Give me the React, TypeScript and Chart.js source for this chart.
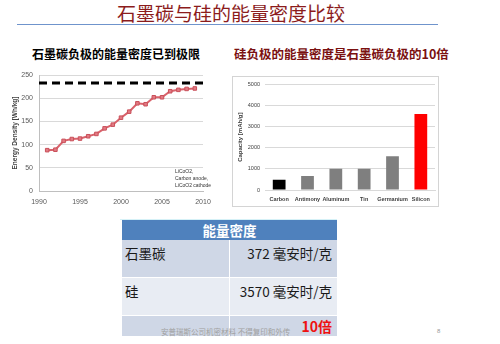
import React, { useEffect, useRef } from 'react';
import { Chart, registerables } from 'chart.js';
Chart.register(...registerables);

// ---- data ----
const years = [1991, 1992, 1993, 1994, 1995, 1996, 1997, 1998, 1999, 2000, 2001, 2002, 2003, 2004, 2005, 2006, 2007, 2008, 2009];
const energyDensity = [88, 89, 108, 112, 113, 118, 123, 135, 143, 158, 171, 189, 187, 202, 202, 215, 218, 220, 221];
const limitYears = [1990, 2010];
const limitValues = [233, 233];
const annotationLines = ['LiCoO2,', 'Carbon anode,', 'LiCoO2 cathode'];

const materials = ['Carbon', 'Antimony', 'Aluminum', 'Tin', 'Germanium', 'Silicon'];
const capacities = [480, 660, 1000, 1000, 1600, 3600];
const barColors = ['#000000', '#7f7f7f', '#7f7f7f', '#7f7f7f', '#7f7f7f', '#ff0000'];

const tableHeader = '能量密度';
const tableRows = [
  ['石墨碳', '372 毫安时/克'],
  ['硅', '3570 毫安时/克'],
];
const ratioText = '10倍';

const FONT = "'Liberation Sans', Arial, sans-serif";
const CJK = "'Noto Sans CJK SC', sans-serif";

function LineChart() {
  const ref = useRef<HTMLCanvasElement>(null);
  useEffect(() => {
    const annot = {
      id: 'annot',
      afterDraw(chart: any) {
        const ctx = chart.ctx;
        ctx.save();
        ctx.fillStyle = '#333';
        ctx.font = `5px ${FONT}`;
        ctx.textBaseline = 'middle';
        annotationLines.forEach((t, i) => ctx.fillText(t, 175, 110 + i * 6.6));
        ctx.restore();
      },
    };
    const chart = new Chart(ref.current!, {
      type: 'line',
      data: {
        datasets: [
          {
            data: years.map((x, i) => ({ x, y: energyDensity[i] })),
            borderColor: '#d9626b',
            backgroundColor: '#e27a83',
            borderWidth: 2,
            pointStyle: 'rect',
            pointRadius: 2.5,
            pointBorderColor: '#c9505a',
            pointBorderWidth: 1,
            tension: 0,
          },
          {
            data: limitYears.map((x, i) => ({ x, y: limitValues[i] })),
            borderColor: '#000',
            borderWidth: 3,
            borderDash: [8, 5],
            pointRadius: 0,
          },
        ],
      },
      options: {
        responsive: false,
        animation: false,
        layout: { padding: { left: 0, right: 22, top: 13, bottom: 0 } },
        plugins: { legend: { display: false }, tooltip: { enabled: false } },
        scales: {
          x: {
            type: 'linear',
            min: 1990,
            max: 2010,
            ticks: { stepSize: 5, padding: 7, font: { size: 7, family: FONT }, color: '#595959', callback: (v: any) => String(v) },
            grid: { display: false, drawTicks: false },
            border: { color: '#bfbfbf' },
            afterFit: (s: any) => { s.height = 21; },
          },
          y: {
            min: 0,
            max: 250,
            ticks: { stepSize: 50, padding: 6, font: { size: 7, family: FONT }, color: '#595959', callback: (v: any) => String(v) },
            grid: { color: '#d9d9d9', drawTicks: false },
            border: { color: '#bfbfbf' },
            title: { display: true, text: 'Energy Density [Wh/kg]', font: { size: 6.5, weight: 'bold', family: FONT }, color: '#404040', padding: { top: 11, bottom: 0 } },
            afterFit: (s: any) => { s.width = 39; },
          },
        },
      } as any,
      plugins: [annot],
    } as any);
    return () => chart.destroy();
  }, []);
  return <canvas ref={ref} width={225} height={150} style={{ position: 'absolute', left: 0, top: 62, width: 225, height: 150 }} />;
}

function BarChart() {
  const ref = useRef<HTMLCanvasElement>(null);
  useEffect(() => {
    const chart = new Chart(ref.current!, {
      type: 'bar',
      data: {
        labels: materials,
        datasets: [
          {
            data: capacities,
            backgroundColor: barColors,
            barPercentage: 0.45,
            categoryPercentage: 1,
          },
        ],
      },
      options: {
        responsive: false,
        animation: false,
        layout: { padding: { left: 0, right: 4, top: 8, bottom: 0 } },
        plugins: { legend: { display: false }, tooltip: { enabled: false } },
        scales: {
          x: {
            ticks: { padding: 6, font: { size: 5.5, weight: 'bold', family: FONT }, color: '#404040', maxRotation: 0, autoSkip: false },
            grid: { display: false, drawTicks: false },
            border: { color: '#d9d9d9' },
            afterFit: (s: any) => { s.height = 17; },
          },
          y: {
            min: 0,
            max: 5000,
            ticks: { stepSize: 1000, padding: 5, font: { size: 5.5, family: FONT }, color: '#404040', callback: (v: any) => String(v) },
            grid: { color: '#d9d9d9', drawTicks: false },
            border: { display: false },
            title: { display: true, text: 'Capacity [mAh/g]', font: { size: 6, weight: 'bold', family: FONT }, color: '#404040', padding: { top: 5, bottom: 0 } },
            afterFit: (s: any) => { s.width = 33; },
          },
        },
      } as any,
    } as any);
    return () => chart.destroy();
  }, []);
  return (
    <>
      <canvas ref={ref} width={207} height={131} style={{ position: 'absolute', left: 232, top: 76, width: 207, height: 131 }} />
      <div style={{ position: 'absolute', left: 232, top: 76, width: 207, height: 131, border: '1px solid #d4d4d4', boxSizing: 'border-box' }} />
    </>
  );
}

export default function App() {
  const abs = (s: React.CSSProperties): React.CSSProperties => ({ position: 'absolute', whiteSpace: 'nowrap', ...s });
  return (
    <div style={{ position: 'fixed', left: 0, top: 0, width: 500, height: 344, background: '#fff', overflow: 'hidden', fontFamily: CJK }}>
      <div style={abs({ left: 117, top: 3, fontSize: 19, lineHeight: '19px', color: '#8c1c1c' })}>石墨碳与硅的能量密度比较</div>
      <div style={abs({ left: 17, top: 24, width: 421, height: 1, background: '#6f94cc' })} />
      <div style={abs({ left: 32, top: 47, fontSize: 12, lineHeight: '14px', fontWeight: 'bold', color: '#000' })}>石墨碳负极的能量密度已到极限</div>
      <div style={abs({ left: 234, top: 47, fontSize: 12.5, lineHeight: '14px', fontWeight: 'bold', color: '#7a1010' })}>硅负极的能量密度是石墨碳负极的10倍</div>

      <LineChart />
      <BarChart />

      <div style={abs({ left: 120, top: 219, width: 217, height: 1, background: '#d5f1f7' })} />

      {/* table */}
      <div style={abs({ left: 122, top: 220, width: 215, height: 20, background: '#4f81bd', color: '#fff', fontWeight: 'bold', fontSize: 13.5, lineHeight: '20px', textAlign: 'center' })}>{tableHeader}</div>
      {tableRows.map((r, i) => {
        const top = 240 + i * 38;
        const bg = i === 0 ? '#cfd7e6' : '#e8ecf3';
        return (
          <React.Fragment key={i}>
            <div style={abs({ left: 122, top, width: 107, height: 37, background: bg })} />
            <div style={abs({ left: 230, top, width: 107, height: 37, background: bg })} />
            <div style={abs({ left: 125, top: top + 5, fontSize: 13.5, lineHeight: '16px', color: '#1a1a1a' })}>{r[0]}</div>
            <div style={abs({ left: 230, top: top + 5, width: 102, textAlign: 'right', fontSize: 13.5, lineHeight: '16px', color: '#1a1a1a' })}>{r[1]}</div>
          </React.Fragment>
        );
      })}
      <div style={abs({ left: 122, top: 316, width: 107, height: 20, background: '#cfd7e6' })} />
      <div style={abs({ left: 230, top: 316, width: 107, height: 20, background: '#cfd7e6' })} />
      <div style={abs({ left: 230, top: 318, width: 102, textAlign: 'right', fontSize: 14, lineHeight: '17px', fontWeight: 'bold', color: '#ee1111' })}>{ratioText}</div>
      <div style={abs({ left: 161, top: 327, fontSize: 7.5, lineHeight: '9px', color: '#a0a0a0' })}>安普瑞斯公司机密材料 不得复印和外传</div>
      <div style={abs({ left: 437, top: 327, fontSize: 6, lineHeight: '8px', color: '#999', fontFamily: FONT })}>8</div>
    </div>
  );
}
